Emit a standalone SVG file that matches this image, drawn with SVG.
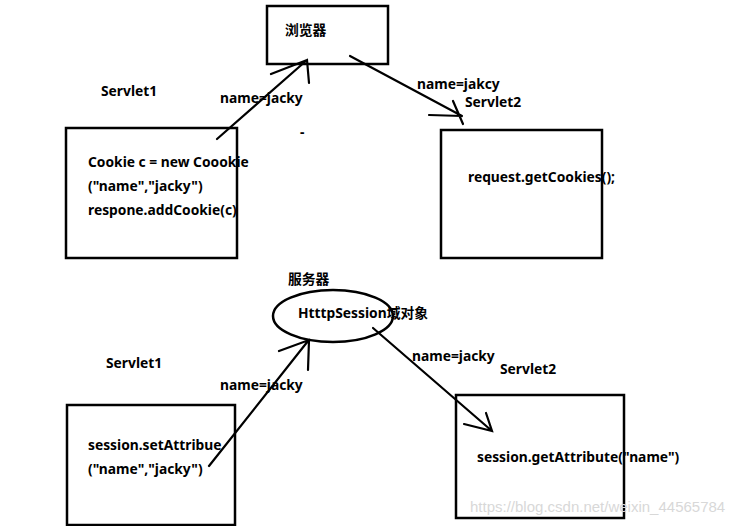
<svg xmlns="http://www.w3.org/2000/svg" width="750" height="526" viewBox="0 0 750 526">
<style>
.box{fill:none;stroke:#000;stroke-width:2.5}
.ln{fill:none;stroke:#000;stroke-width:2.2;stroke-linecap:round}
text{font-family:"Noto Sans","Noto Sans CJK SC",sans-serif;font-weight:bold;font-size:13.8px;fill:#000}
.wm{font-family:"Liberation Sans",sans-serif;font-weight:normal;font-size:15px;fill:#d8d8d8}
</style>
<rect width="750" height="526" fill="#fff"/>
<g id="browser">
<rect class="box" x="267" y="6" width="121" height="58"/>
<text x="285" y="35">浏览器</text>
</g>
<g id="servlet1-top">
<text x="101" y="96">Servlet1</text>
<rect class="box" x="66" y="128" width="171" height="130"/>
<text x="88" y="167">Cookie c = new Coookie</text>
<text x="88" y="191">("name","jacky")</text>
<text x="88" y="215">respone.addCookie(c)</text>
</g>
<g id="servlet2-top">
<text x="465" y="107">Servlet2</text>
<rect class="box" x="441" y="130" width="161" height="128"/>
<text x="468" y="182">request.getCookies();</text>
</g>
<g id="server">
<text x="288" y="284">服务器</text>
<ellipse class="box" cx="333" cy="316" rx="60" ry="26"/>
<text x="298" y="318">HtttpSession域对象</text>
</g>
<g id="servlet1-bottom">
<text x="106" y="368">Servlet1</text>
<rect class="box" x="67" y="405" width="168" height="120"/>
<text x="88" y="450">session.setAttribue</text>
<text x="88" y="474">("name","jacky")</text>
</g>
<g id="servlet2-bottom">
<text x="500" y="374">Servlet2</text>
<rect class="box" x="456" y="395" width="168" height="123"/>
<text x="477" y="462">session.getAttribute("name")</text>
</g>
<g id="connectors">
<path class="ln" d="M217 139 L307 60 M271 74 L307 60 L309 83"/>
<text x="220" y="103">name=jacky</text>
<text x="300" y="137">-</text>
<path class="ln" d="M350 56 L462 116 M429 115 L462 116 M453 101 L463 124"/>
<text x="417" y="89">name=jakcy</text>
<path class="ln" d="M209 466 L308 341 M279 351 L309 340 L308 370"/>
<text x="220" y="390">name=jacky</text>
<path class="ln" d="M373 328 L492 431 M464 424 L492 431 L486 413"/>
<text x="412" y="361">name=jacky</text>
</g>
<text class="wm" x="470" y="512">https://blog.csdn.net/weixin_44565784</text>
</svg>
